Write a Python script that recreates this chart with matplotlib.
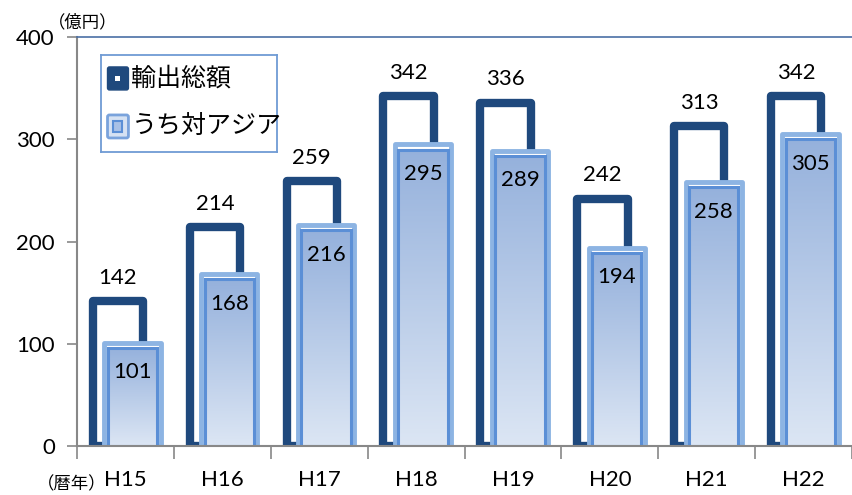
import numpy as np
import matplotlib
matplotlib.use("Agg")
import matplotlib.pyplot as plt
from matplotlib.patches import Rectangle, FancyBboxPatch
from matplotlib.colors import LinearSegmentedColormap

plt.rcParams['font.family'] = ['Lato', 'Noto Sans CJK JP', 'DejaVu Sans']

years = ['H15', 'H16', 'H17', 'H18', 'H19', 'H20', 'H21', 'H22']
total = [142, 214, 259, 342, 336, 242, 313, 342]
asia = [101, 168, 216, 295, 289, 194, 258, 305]

dark = '#1f497d'
grad = LinearSegmentedColormap.from_list('g', ['#dce6f4', '#95b1dc'])

fig = plt.figure(figsize=(8.52, 4.95), dpi=100)
ax = fig.add_axes([0.0904, 0.099, 0.9096, 0.826])
ax.set_xlim(-0.5, 7.5)
ax.set_ylim(0, 400)

x = np.arange(len(years))
w_out = 0.52
w_in = 0.58
off_out = -0.077
off_in = 0.072

# outer bars (outline only)
for xi, v in zip(x, total):
    r = Rectangle((xi + off_out - w_out / 2, 0), w_out, v, facecolor='none',
                  edgecolor=dark, linewidth=6, joinstyle='round', zorder=3)
    ax.add_patch(r)
    ax.text(xi + off_out, v + 13, str(v), ha='center', va='bottom',
            fontsize=16, zorder=6)

# inner bars (gradient with double border)
gimg = np.linspace(0, 1, 256).reshape(-1, 1)
for xi, v in zip(x, asia):
    x0 = xi + off_in - w_in / 2
    outer = Rectangle((x0, 0), w_in, v, facecolor='white', edgecolor='#8db4e3',
                      linewidth=3.5, joinstyle='round', zorder=4)
    ax.add_patch(outer)
    inner = Rectangle((x0 + 0.035, 0), w_in - 0.07, v - 5, facecolor='none',
                      edgecolor='#5b8fd6', linewidth=2.2, zorder=5)
    im = ax.imshow(gimg, cmap=grad, aspect='auto', origin='lower',
                   extent=(x0 + 0.035, x0 + w_in - 0.035, 0, v - 5), zorder=4.5)
    clip = Rectangle((x0 + 0.035, 0), w_in - 0.07, v - 5, transform=ax.transData)
    im.set_clip_path(clip)
    ax.add_patch(inner)
    ax.text(xi + off_in, v - 19, str(v), ha='center', va='top',
            fontsize=16, zorder=6)

ax.set_xlim(-0.5, 7.5)
ax.set_ylim(0, 400)

# axes styling
ax.spines['right'].set_visible(False)
ax.spines['top'].set_color('#4a6fa5')
ax.spines['top'].set_linewidth(1.2)
ax.spines['left'].set_color('#888888')
ax.spines['bottom'].set_color('#888888')
ax.spines['left'].set_linewidth(1.5)
ax.spines['bottom'].set_linewidth(1.5)
ax.spines['bottom'].set_zorder(7)

ax.set_yticks([0, 100, 200, 300, 400])
ax.tick_params(axis='y', length=7, width=1.2, color='#888888', labelsize=16, pad=9)
ax.set_xticks(np.arange(-0.5, 8, 1))
ax.set_xticklabels([])
ax.tick_params(axis='x', length=9, width=1.2, color='#888888')
for xi, lab in zip(x, years):
    ax.text(xi, -23, lab, ha='center', va='top', fontsize=16,
            transform=ax.transData, clip_on=False)

fig.text(0.043, 0.006, '（暦年）', fontsize=12.5, ha='left', va='bottom')
fig.text(0.097, 0.938, '（億円）', fontsize=12.5, ha='center', va='bottom')

# legend
lax = fig.add_axes([0.118, 0.693, 0.207, 0.196])
lax.set_xlim(0, 177)
lax.set_ylim(0, 97)
lax.set_xticks([])
lax.set_yticks([])
for s in lax.spines.values():
    s.set_color('#6f9bd4')
    s.set_linewidth(1.3)
lax.add_patch(FancyBboxPatch((9, 64), 17, 19, boxstyle='round,pad=2', facecolor=dark,
                             edgecolor=dark))
lax.add_patch(Rectangle((15, 71), 5, 5, facecolor='white', edgecolor='none'))
lax.text(31, 74, '輸出総額', fontsize=18, va='center', ha='left')
lax.add_patch(FancyBboxPatch((9, 16), 17, 19, boxstyle='round,pad=2', facecolor='#d6e2f3',
                             edgecolor='#7aa3dc', linewidth=2))
lax.add_patch(Rectangle((13, 20), 9, 11, facecolor='#a9c1e6', edgecolor='#5b8fd6', linewidth=1.5))
lax.text(31, 26, 'うち対アジア', fontsize=18, va='center', ha='left')

fig.savefig('out.png', dpi=100)
